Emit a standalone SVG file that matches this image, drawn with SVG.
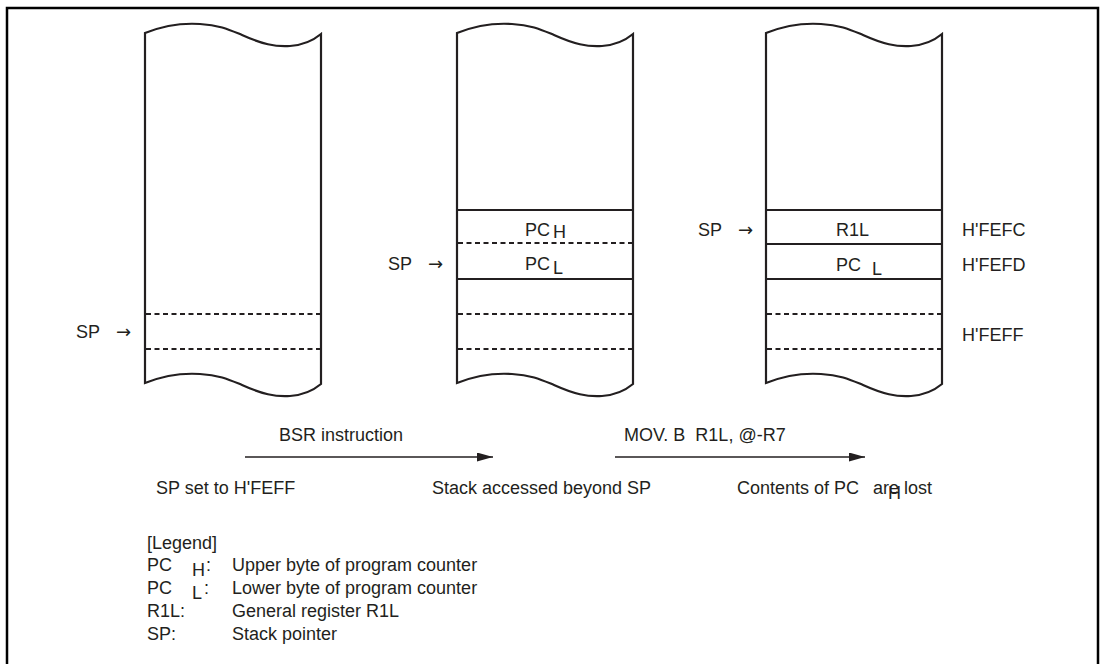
<svg xmlns="http://www.w3.org/2000/svg" width="1103" height="664" viewBox="0 0 1103 664">
<style>
text{font-family:"Liberation Sans",Arial,sans-serif;font-size:18px;fill:#231f20}
.arr{font-family:"DejaVu Sans",sans-serif;font-size:18px}
.col{fill:#fff;stroke:#231f20;stroke-width:2.2}
.solid{stroke:#231f20;stroke-width:2}
.dash{stroke:#231f20;stroke-width:2;stroke-dasharray:5,3.5}
.conn{stroke:#231f20;stroke-width:1.3;fill:none}
</style>
<defs>
<marker id="ah" markerWidth="16" markerHeight="9" refX="16" refY="4.5" orient="auto" markerUnits="userSpaceOnUse">
<path d="M0,0 L16,4.5 L0,9 Z" fill="#231f20"/>
</marker>
<path id="column" class="col" d="M0,33 C20,25 40,23 55,24 C75,25 85,30 97,35 C117,44 130,47 145,46 C160,45 170,39 176,34 L176,384 C170,389 160,395 145,396 C130,397 117,394 97,385 C85,380 75,375 55,374 C40,373 20,375 0,383 Z"/>
</defs>
<rect width="1103" height="664" fill="#fff"/>
<path d="M7,664 L7,8 L1098,8 L1098,664" fill="none" stroke="#000" stroke-width="2.5"/>

<g id="stack1">
<use href="#column" x="145"/>
<line class="dash" x1="146" y1="314" x2="320" y2="314"/>
<line class="dash" x1="146" y1="349" x2="320" y2="349"/>
<text x="76" y="338">SP</text><text class="arr" x="116" y="338">→</text>
</g>

<g id="stack2">
<use href="#column" x="457"/>
<line class="solid" x1="457" y1="210" x2="633" y2="210"/>
<line class="dash" x1="458" y1="243" x2="632" y2="243"/>
<line class="solid" x1="457" y1="279" x2="633" y2="279"/>
<line class="dash" x1="458" y1="314" x2="632" y2="314"/>
<line class="dash" x1="458" y1="349" x2="632" y2="349"/>
<text x="525" y="236">PC</text><text x="553" y="238">H</text>
<text x="525" y="270">PC</text><text x="553" y="274">L</text>
<text x="388" y="270">SP</text><text class="arr" x="428" y="270">→</text>
</g>

<g id="stack3">
<use href="#column" x="766"/>
<line class="solid" x1="766" y1="210" x2="942" y2="210"/>
<line class="solid" x1="766" y1="244" x2="942" y2="244"/>
<line class="solid" x1="766" y1="279" x2="942" y2="279"/>
<line class="dash" x1="767" y1="314" x2="941" y2="314"/>
<line class="dash" x1="767" y1="349" x2="941" y2="349"/>
<text x="836" y="236">R1L</text>
<text x="836" y="271">PC</text><text x="872" y="275">L</text>
<text x="698" y="236">SP</text><text class="arr" x="738" y="236">→</text>
<text x="962" y="236">H'FEFC</text>
<text x="962" y="271">H'FEFD</text>
<text x="962" y="341">H'FEFF</text>
</g>

<g id="connectors">
<line class="conn" x1="245" y1="457" x2="493" y2="457" marker-end="url(#ah)"/>
<line class="conn" x1="615" y1="457" x2="865" y2="457" marker-end="url(#ah)"/>
</g>

<g id="labels">
<text x="279" y="441">BSR instruction</text>
<text x="624" y="441" xml:space="preserve">MOV. B  R1L, @-R7</text>
<text x="156" y="494">SP set to H'FEFF</text>
<text x="432" y="494">Stack accessed beyond SP</text>
<text x="737" y="494">Contents of PC</text><text x="873" y="494">are lost</text><text x="888" y="499">H</text>
</g>

<g id="legend">
<text x="147" y="549">[Legend]</text>
<text x="147" y="571">PC</text><text x="192" y="576">H</text><text x="206" y="571">:</text><text x="232" y="571">Upper byte of program counter</text>
<text x="147" y="594">PC</text><text x="192" y="599">L</text><text x="204" y="594">:</text><text x="232" y="594">Lower byte of program counter</text>
<text x="147" y="617">R1L:</text><text x="232" y="617">General register R1L</text>
<text x="147" y="640">SP:</text><text x="232" y="640">Stack pointer</text>
</g>
</svg>
